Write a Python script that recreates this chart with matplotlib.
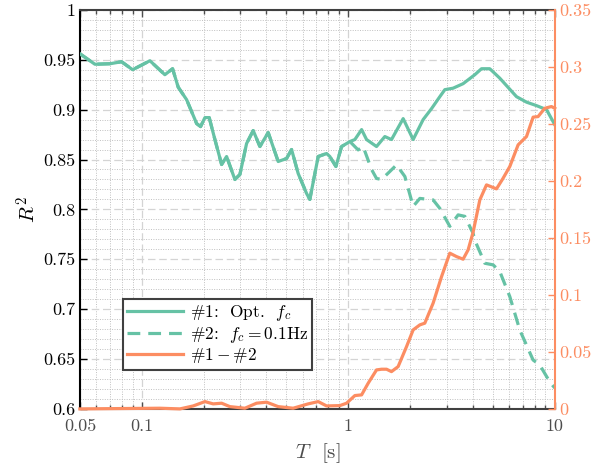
import matplotlib.pyplot as plt
import numpy as np
from matplotlib.ticker import FixedLocator, NullFormatter, MultipleLocator

plt.rcParams['font.family'] = 'serif'
plt.rcParams['font.serif'] = ['cmr10']
plt.rcParams['mathtext.fontset'] = 'cm'
plt.rcParams['axes.unicode_minus'] = False
plt.rcParams['axes.formatter.use_mathtext'] = True

# #1: optimal cut-off frequency
t_opt = [0.05, 0.0591, 0.0699, 0.0796, 0.090, 0.1092, 0.129, 0.1406, 0.1497, 0.1644,
         0.1839, 0.1922, 0.2017, 0.2116, 0.2255, 0.243, 0.2569, 0.2818, 0.298, 0.3211,
         0.3457, 0.3725, 0.4087, 0.4569, 0.5017, 0.5305, 0.571, 0.627, 0.6504, 0.714,
         0.784, 0.813, 0.870, 0.927, 1.017, 1.075, 1.159, 1.225, 1.369, 1.502,
         1.618, 1.843, 2.060, 2.303, 2.529, 2.775, 2.934, 3.218, 3.597, 4.100,
         4.418, 4.845, 5.418, 6.528, 7.299, 8.162, 9.126, 10.0]
r2_opt = [0.956, 0.9455, 0.946, 0.948, 0.940, 0.949, 0.935, 0.941, 0.9225, 0.910,
          0.886, 0.883, 0.892, 0.892, 0.870, 0.845, 0.853, 0.830, 0.835, 0.866,
          0.879, 0.863, 0.877, 0.848, 0.851, 0.860, 0.836, 0.816, 0.810, 0.853,
          0.856, 0.853, 0.843, 0.863, 0.868, 0.870, 0.880, 0.870, 0.863, 0.873,
          0.870, 0.891, 0.870, 0.890, 0.901, 0.913, 0.920, 0.9215, 0.926, 0.935,
          0.941, 0.941, 0.9315, 0.913, 0.9075, 0.904, 0.900, 0.885]

# #2: fixed fc = 0.1 Hz (same as #1 below ~1 s)
t_fix_tail = [1.115, 1.179, 1.295, 1.369, 1.448, 1.588, 1.711, 1.878, 2.060, 2.220,
              2.574, 2.775, 3.101, 3.403, 3.668, 4.022, 4.100, 4.584, 5.028, 5.418,
              6.057, 6.773, 7.857, 8.466, 9.467, 10.0]
r2_fix_tail = [0.8596, 0.863, 0.840, 0.831, 0.830, 0.838, 0.8446, 0.833, 0.803, 0.811,
               0.8095, 0.801, 0.783, 0.7945, 0.793, 0.776, 0.769, 0.746, 0.7444, 0.7377,
               0.7126, 0.679, 0.649, 0.644, 0.627, 0.621]
n_common = 35
t_fix = t_opt[:n_common] + t_fix_tail
r2_fix = r2_opt[:n_common] + r2_fix_tail

# #1 - #2 (right axis)
t_diff = [0.05, 0.1221, 0.1526, 0.177, 0.2017, 0.2212, 0.243, 0.2665, 0.3151, 0.3589,
          0.4014, 0.4569, 0.540, 0.6384, 0.714, 0.784, 0.9094, 0.980, 1.075, 1.159,
          1.247, 1.369, 1.448, 1.531, 1.618, 1.742, 1.914, 2.060, 2.220, 2.346,
          2.574, 2.828, 3.101, 3.343, 3.597, 3.805, 4.022, 4.335, 4.670, 5.222,
          5.62, 6.057, 6.646, 7.299, 7.857, 8.305, 8.95, 9.645, 10.0]
r2_diff = [0.0, 0.0006, 0.0, 0.0026, 0.0064, 0.0044, 0.005, 0.002, 0.0006, 0.005,
           0.0059, 0.002, 0.0006, 0.0044, 0.0064, 0.0026, 0.0029, 0.005, 0.0117, 0.0123,
           0.0225, 0.0342, 0.0348, 0.0348, 0.0327, 0.0371, 0.0547, 0.0693, 0.0737, 0.0752,
           0.0927, 0.116, 0.1366, 0.1336, 0.1313, 0.1395, 0.155, 0.1833, 0.1965, 0.193,
           0.2023, 0.2126, 0.2316, 0.2389, 0.2559, 0.2564, 0.2637, 0.2652, 0.2637]

x_ticks = [0.05, 0.1, 1, 10]
x_labels = ['0.05', '0.1', '1', '10']
y_ticks = [0.6, 0.65, 0.7, 0.75, 0.8, 0.85, 0.9, 0.95, 1.0]
y_labels = ['0.6', '0.65', '0.7', '0.75', '0.8', '0.85', '0.9', '0.95', '1']
y2_ticks = [0, 0.05, 0.1, 0.15, 0.2, 0.25, 0.3, 0.35]
y2_labels = ['0', '0.05', '0.1', '0.15', '0.2', '0.25', '0.3', '0.35']

green = '#66c2a5'
orange = '#fc8d62'

fig = plt.figure(figsize=(6.01, 4.70), dpi=100)
ax = fig.add_axes([0.133, 0.13, 0.79, 0.849])

l1, = ax.plot(t_opt, r2_opt, color=green, lw=2.3, label='#1:  Opt.  $f_c$', zorder=3)
l2, = ax.plot(t_fix, r2_fix, color=green, lw=2.3, dashes=(4, 2.5),
              label='#2:  $f_c = 0.1\\mathrm{Hz}$', zorder=3)

ax.set_xscale('log')
ax.set_xlim(0.05, 10)
ax.set_ylim(0.6, 1.0)
ax.xaxis.set_major_locator(FixedLocator(x_ticks))
ax.set_xticklabels(x_labels)
minors = [v * d for d in (0.01, 0.1, 1) for v in range(2, 10) if 0.05 < v * d < 10]
ax.xaxis.set_minor_locator(FixedLocator(minors))
ax.xaxis.set_minor_formatter(NullFormatter())
ax.yaxis.set_major_locator(FixedLocator(y_ticks))
ax.set_yticklabels(y_labels)
ax.yaxis.set_minor_locator(MultipleLocator(0.01))

ax.grid(True, which='major', color='#d4d4d4', lw=0.9, ls=(0, (6, 3)))
ax.grid(True, which='minor', color='#c0c0c0', lw=0.7, ls=(0, (1, 1.5)))
ax.set_axisbelow(True)

ax.tick_params(axis='x', which='both', direction='in', top=True, colors='#4d4d4d',
               labelsize=13, pad=7)
ax.tick_params(axis='x', which='major', length=5, width=1)
ax.tick_params(axis='x', which='minor', length=3, width=1)
ax.tick_params(axis='y', which='major', direction='in', length=5, width=1,
               colors='black', labelsize=13, right=False)
ax.tick_params(axis='y', which='minor', length=0)

for side in ('left', 'bottom', 'top'):
    ax.spines[side].set_linewidth(1.5)
ax.spines['left'].set_color('black')
ax.spines['bottom'].set_color('#404040')
ax.spines['top'].set_color('#404040')
ax.spines['right'].set_visible(False)

ax.set_xlabel('$T$  [s]', fontsize=15, color='#4d4d4d', labelpad=5)
ax.set_ylabel('$R^2$', fontsize=15, labelpad=2)

ax2 = ax.twinx()
l3, = ax2.plot(t_diff, r2_diff, color=orange, lw=2.3, label='$\\#1 - \\#2$',
               clip_on=False, zorder=3)
ax2.set_ylim(0, 0.35)
ax2.yaxis.set_major_locator(FixedLocator(y2_ticks))
ax2.set_yticklabels(y2_labels)
ax2.tick_params(axis='y', direction='in', length=5, width=1, colors=orange, labelsize=13)
for side in ('left', 'bottom', 'top'):
    ax2.spines[side].set_visible(False)
ax2.spines['right'].set_color(orange)
ax2.spines['right'].set_linewidth(1.5)

leg = ax2.legend(handles=[l1, l2, l3], loc='lower left', bbox_to_anchor=(0.091, 0.098),
                 borderaxespad=0, fontsize=12.5, handlelength=3.2, fancybox=False,
                 framealpha=1, edgecolor='#404040', borderpad=0.25, labelspacing=0.1,
                 handletextpad=0.4)
leg.get_frame().set_linewidth(1.5)

fig.savefig('out.png', dpi=100)
